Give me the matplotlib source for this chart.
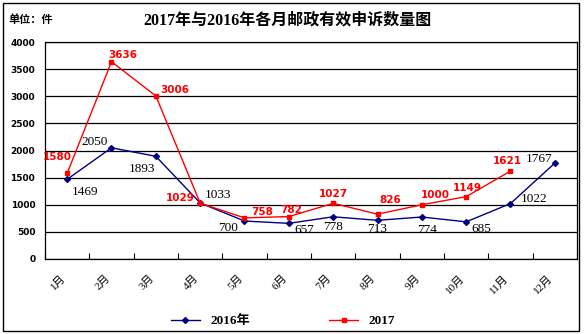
import matplotlib.pyplot as plt
import numpy as np
from matplotlib.patches import Rectangle

months = ['1月', '2月', '3月', '4月', '5月', '6月', '7月', '8月', '9月', '10月', '11月', '12月']
y2016 = [1469, 2050, 1893, 1033, 700, 657, 778, 713, 774, 685, 1022, 1767]
y2017 = [1580, 3636, 3006, 1029, 758, 782, 1027, 826, 1000, 1149, 1621]

# label offsets in points (dx, dy)
off2016 = [(13, -9), (-12, 4), (-10, -9), (13, 6), (-12, -5), (11, -5), (0, -7), (0, -6), (4, -9), (11, -5), (17, 3), (-11, 3)]
off2017 = [(-7, 12), (8, 5), (14, 4), (-14, 4), (13, 4), (2, 5), (0, 7), (9, 10), (10, 7), (1, 6), (-2, 7)]

plt.rcParams['font.family'] = ['Liberation Serif', 'Noto Sans CJK SC']

fig = plt.figure(figsize=(5.84, 3.34), dpi=100)
ax = fig.add_axes([45 / 584, 1 - 259 / 334, 532 / 584, 217 / 334])

x16 = np.arange(len(y2016))
x17 = np.arange(len(y2017))
ax.plot(x16, y2016, color='#000080', lw=1, marker='D', ms=3, label='2016年')
ax.plot(x17, y2017, color='#ff0000', lw=1, marker='s', ms=3.5, label='2017')

for i, v in enumerate(y2016):
    ax.annotate(str(v), (i, v), xytext=off2016[i], textcoords='offset points',
                ha='center', va='center', fontsize=9.5, color='black')
for i, v in enumerate(y2017):
    ax.annotate(str(v), (i, v), xytext=off2017[i], textcoords='offset points',
                ha='center', va='center', fontsize=7.5, color='#ff0000',
                fontweight='bold', family='DejaVu Sans')

ax.set_xlim(-0.5, 11.5)
ax.set_ylim(0, 4000)
ax.set_yticks(np.arange(0, 4001, 500))
ax.set_yticklabels([str(v) for v in range(0, 4001, 500)], fontsize=6.5,
                   fontweight='bold', family='DejaVu Sans')
ax.tick_params(axis='y', length=0, pad=7)
ax.yaxis.grid(True, color='black', lw=0.9)
ax.set_axisbelow(True)

ax.set_xticks(np.arange(-0.5, 11.6, 1), minor=False)
ax.set_xticklabels([])
ax.tick_params(axis='x', direction='in', length=4, width=0.8)
ax.set_xticks(x16, minor=True)
ax.set_xticklabels(months, minor=True, rotation=45, ha='right', fontsize=8,
                   family=['Liberation Serif', 'Noto Sans CJK SC'])
ax.tick_params(axis='x', which='minor', length=0, pad=10)
for s in ax.spines.values():
    s.set_color('black')
    s.set_linewidth(0.9)

fig.text(288 / 584, 1 - 20 / 334, '2017年与2016年各月邮政有效申诉数量图', ha='center', va='center',
         fontsize=11.5, fontweight='bold')
fig.text(8 / 584, 1 - 20 / 334, '单位：件', ha='left', va='center', fontsize=8, fontweight='bold',
         family=['Noto Sans CJK SC'])

fig.legend(loc='center', bbox_to_anchor=(283 / 584, 1 - 321 / 334), ncol=2, frameon=False,
           handlelength=2.2, columnspacing=6, prop={'weight': 'bold', 'size': 9.5})

fig.add_artist(Rectangle((3 / 584, 3 / 334), 576 / 584, 328 / 334, transform=fig.transFigure,
                         fill=False, edgecolor='black', lw=1))

fig.savefig('out.png', dpi=100)
